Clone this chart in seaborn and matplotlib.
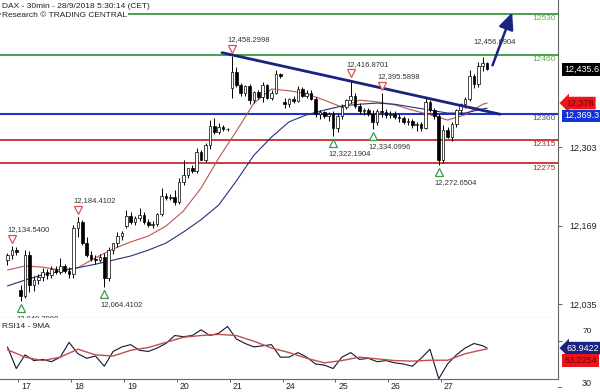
import numpy as np
import pandas as pd
import matplotlib
matplotlib.use("Agg")
import matplotlib.pyplot as plt
import seaborn as sns
from matplotlib.transforms import ScaledTranslation, blended_transform_factory

# ---- DAX 30min candles ----
opens = [12110, 12118, 12128,
         12059, 12049, 12119, 12068, 12076, 12082, 12090, 12084, 12095, 12090, 12100, 12092,
         12086, 12165, 12175, 12139, 12119, 12112, 12110, 12116, 12080, 12127, 12139, 12151,
         12168, 12185, 12175, 12182, 12187, 12175, 12170, 12172, 12189, 12219, 12216, 12218,
         12210, 12244, 12255, 12267, 12262, 12294, 12281, 12306, 12339, 12329, 12338, 12334,
         12404, 12431, 12409, 12395, 12407, 12383, 12397, 12388, 12409, 12387, 12396, 12428,
         12380, 12376, 12385, 12382, 12402, 12390, 12395, 12385, 12359, 12362, 12356, 12360,
         12335, 12356, 12372, 12383, 12390, 12373, 12364, 12366, 12360, 12345, 12365, 12363,
         12358, 12360, 12354, 12352, 12346, 12348, 12340, 12342, 12336, 12380, 12366, 12356,
         12281, 12332, 12320, 12342, 12366, 12376, 12385, 12424, 12410, 12441, 12446]
highs = [12122, 12134.54, 12132,
         12067, 12127, 12125, 12083, 12086, 12096, 12094, 12100, 12100, 12114, 12104, 12098,
         12170, 12184.41, 12178, 12150, 12125, 12118, 12120, 12122, 12132, 12140, 12158, 12160,
         12196, 12192, 12186, 12199, 12192, 12180, 12176, 12190, 12233, 12225, 12222, 12230,
         12250, 12281, 12268, 12272, 12301, 12298, 12310, 12349, 12352, 12344, 12340, 12336,
         12458.30, 12440, 12412, 12408, 12410, 12398, 12400, 12414, 12410, 12400, 12434, 12430,
         12386, 12386, 12390, 12407, 12405, 12400, 12400, 12388, 12366, 12365, 12362, 12364,
         12360, 12376, 12385, 12416.87, 12395, 12378, 12370, 12370, 12366, 12368, 12395.59, 12368,
         12364, 12364, 12360, 12356, 12352, 12350, 12346, 12345, 12388, 12384, 12370, 12360,
         12340, 12338, 12345, 12368, 12378, 12388, 12434, 12428, 12448, 12456.69, 12448]
lows = [12102, 12112, 12118,
        12040.80, 12045, 12056, 12058, 12070, 12075, 12078, 12080, 12086, 12086, 12088, 12080,
        12080, 12150, 12136, 12115, 12108, 12104, 12106, 12064.41, 12074, 12120, 12133, 12145,
        12165, 12172, 12170, 12176, 12172, 12166, 12165, 12168, 12185, 12212, 12212, 12204,
        12205, 12238, 12250, 12258, 12258, 12280, 12278, 12300, 12326, 12325, 12330, 12330,
        12387, 12405, 12390, 12390, 12376, 12378, 12385, 12380, 12385, 12384, 12394, 12420,
        12370, 12372, 12378, 12380, 12388, 12386, 12384, 12354, 12350, 12352, 12348, 12322.19,
        12328, 12350, 12368, 12378, 12370, 12360, 12358, 12356, 12334.10, 12340, 12355, 12352,
        12352, 12350, 12346, 12342, 12340, 12336, 12330, 12330, 12334, 12362, 12350, 12272.65,
        12276, 12318, 12314, 12338, 12360, 12370, 12382, 12404, 12406, 12432, 12434]
closes = [12118, 12128, 12124,
          12049, 12119, 12068, 12076, 12082, 12090, 12084, 12095, 12090, 12100, 12092, 12086,
          12165, 12175, 12139, 12119, 12112, 12110, 12116, 12080, 12127, 12139, 12151, 12156,
          12185, 12175, 12182, 12187, 12175, 12170, 12172, 12189, 12219, 12216, 12218, 12210,
          12244, 12255, 12267, 12262, 12294, 12281, 12306, 12339, 12329, 12338, 12334, 12333,
          12431, 12409, 12395, 12407, 12383, 12397, 12388, 12409, 12387, 12396, 12428, 12425,
          12376, 12385, 12382, 12402, 12390, 12395, 12385, 12359, 12362, 12356, 12360, 12335,
          12356, 12372, 12383, 12390, 12373, 12364, 12366, 12360, 12345, 12365, 12363, 12358,
          12360, 12354, 12352, 12346, 12348, 12340, 12342, 12336, 12380, 12366, 12356, 12281,
          12332, 12320, 12342, 12366, 12376, 12385, 12424, 12410, 12441, 12446, 12435.6]

# moving averages, read every 4th bar
ma_bars = [0, 4, 8, 12, 16, 20, 24, 28, 32, 36, 40, 44, 48, 52, 56, 60, 64, 68, 72,
           76, 80, 84, 88, 92, 96, 100, 104, 108, 109]
ma_fast = [12093, 12100, 12098, 12093, 12097, 12114, 12129, 12141, 12151, 12168, 12194,
           12233, 12284, 12330, 12378, 12402, 12399, 12394, 12383, 12371, 12383, 12380,
           12375, 12366, 12358, 12349, 12358, 12376, 12378]
ma_slow = [12066, 12076, 12085, 12091, 12097, 12103, 12110, 12117, 12127, 12139, 12158,
           12179, 12204, 12245, 12289, 12320, 12346, 12358, 12366, 12373, 12376, 12378,
           12376, 12371, 12366, 12361, 12361, 12368, 12369.3]

# RSI14 read every 2nd bar, and its 9MA
rsi_bars = list(range(0, 109, 2)) + [109]
rsi = [65, 46, 58, 53, 54, 52, 56, 69, 59, 55, 57, 48, 61, 65, 67, 62, 61, 64, 68, 75,
       74, 75, 80, 75, 77, 83, 72, 68, 65, 66, 67, 56, 56, 60, 56, 50, 49, 46, 56, 60,
       54, 55, 52, 53, 51, 50, 48, 55, 63, 37, 50, 58, 64, 68, 66, 63.9422]
rsi_ma = [62.5, 56, 53, 56, 63, 58, 57, 62, 64.5, 69, 73.5, 75, 76, 75, 70, 64, 60, 55,
          51, 53, 56, 54.5, 53, 52.5, 53.3, 53.3, 59, 62.5, 63.2254]

day_labels = ["17", "18", "19", "20", "21", "24", "25", "26", "27"]
day_first_bar = [3, 15, 27, 39, 51, 63, 75, 87, 99]

green_levels = [12530, 12460]
blue_level = 12360
red_levels = [12315, 12275]

mark_bars = [1, 3, 16, 22, 51, 74, 78, 83, 85, 98, 108]
mark_prices = [12134.54, 12040.7998, 12184.4102, 12064.4102, 12458.2998, 12322.1904,
               12416.8701, 12334.0996, 12395.5898, 12272.6504, 12456.6904]
mark_kinds = ["high", "low", "high", "low", "high", "low", "high", "low", "high", "low", "text"]

trend_bars = [48.75, 111.9]
trend_prices = [12464, 12359]
arrow_bars = [110, 114.9]
arrow_prices = [12438, 12537]

# ---- style ----
sns.set_theme(style="white")
plt.rcParams["font.family"] = ["Liberation Sans", "DejaVu Sans"]

fig = plt.figure(figsize=(6, 3.92), dpi=100, facecolor="white")
ax = fig.add_axes([0, 1 - 318 / 392, 558 / 600, 318 / 392])
ax2 = fig.add_axes([0, 13 / 392, 558 / 600, 61 / 392])

navy = "#1a237e"
pt = fig.dpi_scale_trans

# ---- main panel ----
df = pd.DataFrame({"o": opens, "h": highs, "l": lows, "c": closes})
df["bar"] = np.arange(len(df))
up = df["c"] >= df["o"]
body_lo = df[["o", "c"]].min(axis=1)
body_h = (df["c"] - df["o"]).abs().clip(lower=1.5)

for lv in green_levels:
    ax.axhline(lv, color="#3c9a3c", lw=1.3, zorder=2)
ax.axhline(blue_level, color="#1f35c8", lw=1.5, zorder=2)
for lv in red_levels:
    ax.axhline(lv, color="#cc2a2a", lw=1.3, zorder=2)

sns.lineplot(x=ma_bars, y=ma_fast, ax=ax, color="#b8584a", lw=0.8, zorder=2.5)
sns.lineplot(x=ma_bars, y=ma_slow, ax=ax, color="#27307a", lw=0.8, zorder=2.5)

ax.vlines(df["bar"], df["l"], df["h"], color="black", lw=0.7, zorder=3)
ax.bar(df["bar"], body_h, bottom=body_lo, width=0.6,
       color=np.where(up, "white", "black"), edgecolor="black", linewidth=0.5, zorder=4)

ax.plot(trend_bars, trend_prices, color=navy, lw=2, zorder=5, solid_capstyle="round")
ax.annotate("", xy=(arrow_bars[1], arrow_prices[1]), xytext=(arrow_bars[0], arrow_prices[0]),
            arrowprops=dict(arrowstyle="-|>,head_length=1.0,head_width=0.45",
                            color=navy, lw=1.8, mutation_scale=10), zorder=6)

# high / low markers
for b, p, k in zip(mark_bars, mark_prices, mark_kinds):
    label = f"{p:,.4f}"
    if k == "high":
        ax.plot(b, p, marker="v", ms=6, mfc="white", mec="#d9534f", mew=0.9, zorder=6,
                transform=ax.transData + ScaledTranslation(0, 5 / 72, pt))
        ax.annotate(label, (b, p), xytext=(-3, 11.5), textcoords="offset points",
                    ha="left", va="center", fontsize=5.5, color="#333333", zorder=6)
    elif k == "low":
        ax.plot(b, p, marker="^", ms=6, mfc="white", mec="#3a9a4a", mew=0.9, zorder=6,
                transform=ax.transData + ScaledTranslation(0, -5 / 72, pt))
        ax.annotate(label, (b, p), xytext=(-3, -13), textcoords="offset points",
                    ha="left", va="center", fontsize=5.5, color="#333333", zorder=6)
    else:
        ax.annotate(label, (b, p), xytext=(-7, 11), textcoords="offset points",
                    ha="left", va="center", fontsize=5.5, color="#333333", zorder=6)

# level labels at the right edge
ytr = blended_transform_factory(ax.transAxes, ax.transData)
level_colors = {12530: "#6aaa5a", 12460: "#6aaa5a", 12360: "#55557a",
                12315: "#b03030", 12275: "#b03030"}
for lv, col in level_colors.items():
    ax.annotate(str(lv), (1.0, lv), xycoords=ytr, xytext=(-1.5, -1), textcoords="offset points",
                ha="right", va="top", fontsize=6, color=col, zorder=6)

ax.text(0.003, 1 - 6 / 318, "DAX - 30min - 28/9/2018 5:30:14 (CET)", transform=ax.transAxes,
        fontsize=6, va="center", ha="left", color="#222222", zorder=10)
ax.text(0.003, 1 - 15.5 / 318, "Research \u00a9 TRADING CENTRAL", transform=ax.transAxes,
        fontsize=6, va="center", ha="left", color="#222222", zorder=10,
        bbox=dict(fc="white", ec="none", pad=0.6))

ax.set_xlim(-1.7, 125.1)
ax.set_ylim(12011.2, 12553.9)
ax.yaxis.tick_right()
ax.set_yticks([12035, 12169, 12303])
ax.set_yticklabels(["12,035", "12,169", "12,303"])
ax.tick_params(axis="y", right=True, length=3, width=0.6, pad=5, labelsize=6.5,
               color="#444444", labelcolor="#222222")
ax.set_xticks([])
for s in ["left", "top"]:
    ax.spines[s].set_visible(False)
ax.spines["right"].set_color("#666666")
ax.spines["right"].set_linewidth(0.8)
ax.spines["bottom"].set_color("#999999")
ax.spines["bottom"].set_linewidth(0.8)
ax.set_xlabel("")
ax.set_ylabel("")

# right side value boxes
ax.annotate(f"{closes[-1]:,.1f}", (1.0, closes[-1]), xycoords=ytr, xytext=(4.5, 0),
            textcoords="offset points", ha="left", va="center", fontsize=6.5, color="white",
            bbox=dict(boxstyle="square,pad=0.25", fc="black", ec="none"), annotation_clip=False)
ax.annotate(f"{ma_fast[-1]:,.0f}", (1.0, ma_fast[-1]), xycoords=ytr, xytext=(6, 0),
            textcoords="offset points", ha="left", va="center", fontsize=6.5, color="#7a0000",
            bbox=dict(boxstyle="larrow,pad=0.2", fc="#e8161b", ec="none"), annotation_clip=False)
ax.annotate(f"{ma_slow[-1]:,.1f}", (1.0, ma_slow[-1]), xycoords=ytr, xytext=(4.5, -5.5),
            textcoords="offset points", ha="left", va="center", fontsize=6.5, color="white",
            bbox=dict(boxstyle="square,pad=0.2", fc="#1433d6", ec="none"), annotation_clip=False)

# ---- RSI panel ----
sns.lineplot(x=rsi_bars, y=rsi, ax=ax2, color="#141430", lw=0.8)
sns.lineplot(x=ma_bars, y=rsi_ma, ax=ax2, color="#c0504d", lw=1.0)

ax2.text(0.004, 0.86, "RSI14 - 9MA", transform=ax2.transAxes, fontsize=6,
         ha="left", va="center", color="#222222")

ax2.set_xlim(-1.7, 125.1)
ax2.set_ylim(36.8, 90.4)
ax2.yaxis.tick_right()
ax2.set_yticks([70])
ax2.set_yticklabels([])
ax2.tick_params(axis="y", right=True, length=3, width=0.6, color="#444444")
rtr = blended_transform_factory(ax2.transAxes, ax2.transData)
# "70" mostly sits behind the value boxes in the original; keep its top showing
ax2.annotate("70", (1.0, 70), xycoords=rtr, xytext=(18, 4.5), textcoords="offset points",
             ha="left", va="bottom", fontsize=6, color="#222222", annotation_clip=False,
             zorder=1)
ax2.plot([1.0, 1.006], [30, 30], transform=rtr, color="#444444", lw=0.6, clip_on=False)
ax2.annotate("30", (1.0, 30), xycoords=rtr, xytext=(17, 2), textcoords="offset points",
             ha="left", va="center", fontsize=6.5, color="#222222", annotation_clip=False)

ax2.annotate(f"{rsi[-1]:.4f}", (1.0, rsi[-1]), xycoords=rtr, xytext=(6, 0),
             textcoords="offset points", ha="left", va="center", fontsize=6.5, color="white",
             bbox=dict(boxstyle="larrow,pad=0.2", fc="#1a237e", ec="none"),
             annotation_clip=False, zorder=5)
ax2.annotate(f"{rsi_ma[-1]:.4f}", (1.0, rsi_ma[-1]), xycoords=rtr, xytext=(4.5, -8.5),
             textcoords="offset points", ha="left", va="center", fontsize=6.5, color="#7a0000",
             bbox=dict(boxstyle="square,pad=0.2", fc="#e8161b", ec="none"),
             annotation_clip=False, zorder=5)

day_ticks = [b - 0.5 for b in day_first_bar]
ax2.set_xticks(day_ticks)
ax2.set_xticklabels(day_labels)
ax2.tick_params(axis="x", bottom=True, direction="out", length=2.5, width=0.6, pad=0,
                labelsize=6.3, color="#444444", labelcolor="#222222")
for lab in ax2.get_xticklabels():
    lab.set_horizontalalignment("left")
    lab.set_transform(lab.get_transform() + ScaledTranslation(2 / 72, 0, pt))

for s in ["left", "top"]:
    ax2.spines[s].set_visible(False)
for s in ["right", "bottom"]:
    ax2.spines[s].set_color("#666666")
    ax2.spines[s].set_linewidth(0.8)
ax2.set_xlabel("")
ax2.set_ylabel("")

fig.savefig("out.png", dpi=100, facecolor="white")
